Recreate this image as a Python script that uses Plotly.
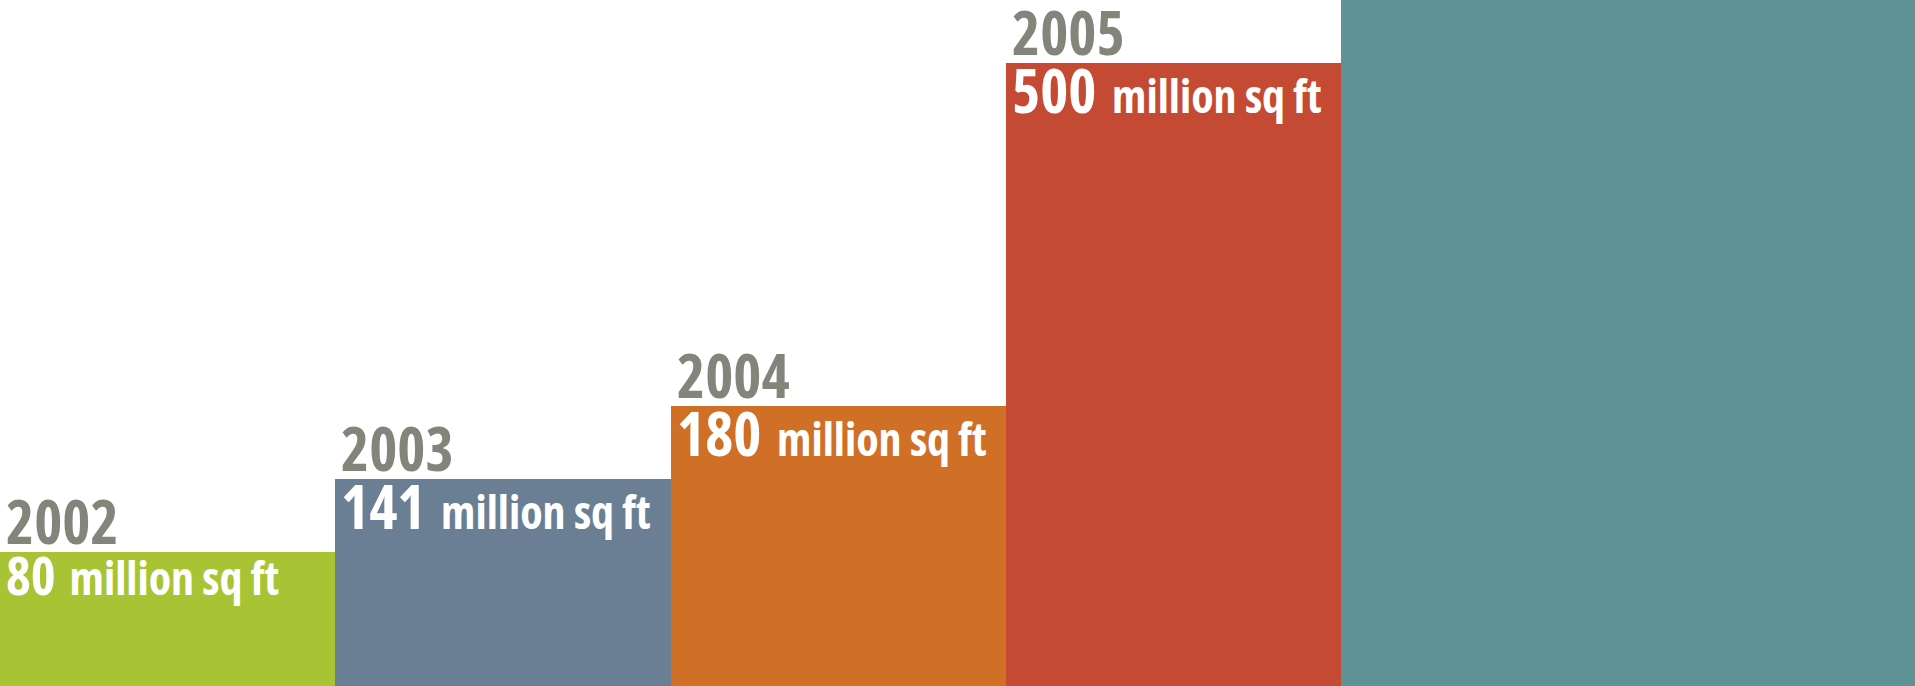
import plotly.graph_objects as go

years = ["2002", "2003", "2004", "2005", "2006"]
values = [80, 141, 180, 500, None]          # million sq ft (label values)
bar_heights = [134, 207, 280, 623, 760]     # drawn heights as pictured (not to scale)
bar_widths = [1, 1, 1, 1, 2]
colors = ["#A8C434", "#6A7F94", "#D07026", "#C54A34", "#5F9294"]
value_sizes = [53, 60, 60, 60, None]
year_color = "#84847A"

FONT = "Open Sans"
STY = "font-stretch:condensed"

xpos = list(range(len(years)))

fig = go.Figure()
fig.add_trace(go.Bar(
    x=xpos, y=bar_heights, width=bar_widths, offset=-0.5,
    marker=dict(color=colors, line=dict(width=0)),
    hoverinfo="skip", showlegend=False,
))

for i, (yr, v, h, vs) in enumerate(zip(years, values, bar_heights, value_sizes)):
    if v is None:
        continue
    fig.add_annotation(
        x=i - 0.5, y=h, xref="x", yref="y", xanchor="left", yanchor="bottom",
        text=f"<b><span style='{STY}'>{yr}</span></b>", showarrow=False, xshift=4, yshift=-12,
        font=dict(family=FONT, size=60, color=year_color),
    )
    fig.add_annotation(
        x=i - 0.5, y=h, xref="x", yref="y", xanchor="left", yanchor="top",
        text=(f"<b><span style='{STY}'>{v}</span></b> "
              f"<b><span style='font-size:46px;{STY}'>million sq ft</span></b>"),
        showarrow=False, xshift=4, yshift=16,
        font=dict(family=FONT, size=vs, color="white"),
    )

fig.update_layout(
    width=1915, height=686, margin=dict(l=0, r=0, t=0, b=0),
    paper_bgcolor="white", plot_bgcolor="white",
    bargap=0,
    xaxis=dict(range=[-0.5, 5.211], visible=False, fixedrange=True),
    yaxis=dict(range=[0, 686], visible=False, fixedrange=True),
)

fig.write_html("out.html")
